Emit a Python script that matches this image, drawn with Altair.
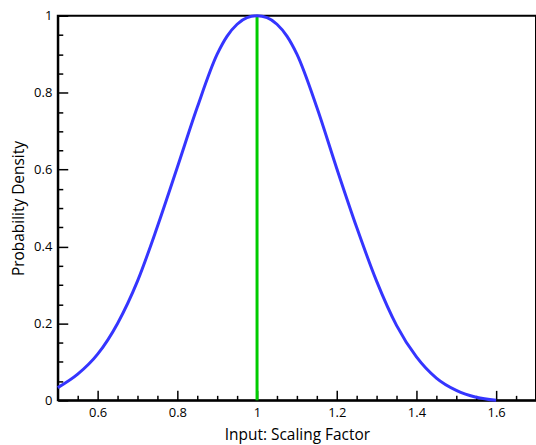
import altair as alt
import pandas as pd

# Curve
curve_x = [0.50, 0.55, 0.60, 0.65, 0.70, 0.75, 0.80, 0.85, 0.90, 0.925, 0.95, 0.975, 1.00,
           1.025, 1.05, 1.075, 1.10, 1.15, 1.20, 1.25, 1.30, 1.35, 1.40, 1.45, 1.50, 1.55, 1.60]
curve_y = [0.033, 0.068, 0.120, 0.200, 0.310, 0.452, 0.606, 0.762, 0.900, 0.947, 0.978, 0.995, 1.000,
           0.995, 0.978, 0.947, 0.900, 0.762, 0.603, 0.450, 0.310, 0.195, 0.113, 0.058, 0.026, 0.008, 0.0]

marker_x = [1.0, 1.0]
marker_y = [0.0, 1.0]

x_major = [0.6, 0.8, 1.0, 1.2, 1.4, 1.6]
x_minor = [0.55, 0.65, 0.7, 0.75, 0.85, 0.9, 0.95, 1.05, 1.1, 1.15,
           1.25, 1.3, 1.35, 1.45, 1.5, 1.55, 1.65]
y_major = [0.0, 0.2, 0.4, 0.6, 0.8, 1.0]
y_minor = [0.05, 0.1, 0.15, 0.25, 0.3, 0.35, 0.45, 0.5, 0.55,
           0.65, 0.7, 0.75, 0.85, 0.9, 0.95]

FONT = "Open Sans"

curve_df = pd.DataFrame({"x": curve_x, "y": curve_y})
marker_df = pd.DataFrame({"x": marker_x, "y": marker_y})

xs = alt.Scale(domain=[0.5, 1.7], nice=False, zero=False)
ys = alt.Scale(domain=[0, 1], nice=False)

main_x = alt.Axis(values=x_major, format="~g", ticks=False, tickSize=0, grid=False,
                  domain=True, domainColor="black", domainWidth=2,
                  labelFont=FONT, labelFontSize=13, labelColor="black", labelPadding=6,
                  title="Input: Scaling Factor", titleFont=FONT, titleFontSize=15.5,
                  titleFontWeight="normal", titleColor="black", titlePadding=8,
                  orient="bottom")
main_y = alt.Axis(values=y_major, format="~g", ticks=False, tickSize=0, grid=False,
                  domain=True, domainColor="black", domainWidth=2,
                  labelFont=FONT, labelFontSize=13, labelColor="black", labelPadding=6,
                  title="Probability Density", titleFont=FONT, titleFontSize=15.5,
                  titleFontWeight="normal", titleColor="black", titlePadding=7,
                  orient="left")

def tick_axis(vals, size, orient):
    return alt.Axis(values=vals, ticks=True, tickSize=size, tickColor="black",
                    tickWidth=1.5, offset=-size, labels=False, domain=False,
                    grid=False, title=None, orient=orient)

curve = alt.Chart(curve_df).mark_line(
    color="#3535ff", strokeWidth=3, interpolate="monotone"
).encode(
    x=alt.X("x:Q", scale=xs, axis=main_x),
    y=alt.Y("y:Q", scale=ys, axis=main_y),
)

marker = alt.Chart(marker_df).mark_line(color="#00cc00", strokeWidth=3).encode(
    x=alt.X("x:Q", scale=xs, axis=tick_axis(x_major, 10, "bottom")),
    y=alt.Y("y:Q", scale=ys, axis=tick_axis(y_major, 10, "left")),
)

minor = alt.Chart(curve_df).mark_point(opacity=0).encode(
    x=alt.X("x:Q", scale=xs, axis=tick_axis(x_minor, 5, "bottom")),
    y=alt.Y("y:Q", scale=ys, axis=tick_axis(y_minor, 5, "left")),
)

chart = alt.layer(minor, marker, curve).resolve_axis(
    x="independent", y="independent"
).properties(
    width=480, height=386,
    autosize=alt.AutoSizeParams(type="none"),
    padding={"left": 58, "top": 15, "right": 0, "bottom": 44},
    background="white",
).configure_view(stroke="black", strokeWidth=2)

chart.save("out.html", embed_options={"renderer": "svg", "actions": False})
